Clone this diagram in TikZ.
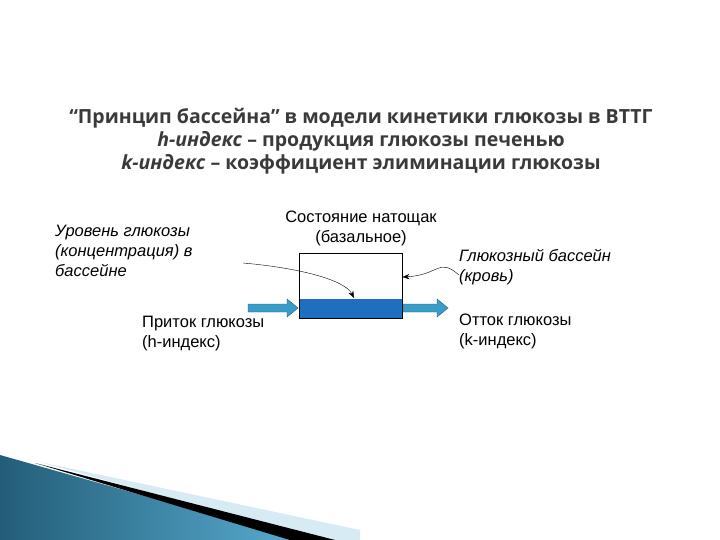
\documentclass[tikz,border=0pt]{standalone}
\usepackage{fontspec}
\setmainfont{Liberation Sans}
\newfontfamily\titlefont{Open Sans}
\usetikzlibrary{arrows.meta}
\definecolor{ttl}{HTML}{3A3A3A}
\definecolor{water}{HTML}{1F6FC0}
\definecolor{flow}{HTML}{3A9CC8}
\tikzset{lbl/.style={font=\fontsize{16.5}{20}\selectfont,align=left,anchor=north west,inner sep=0pt},
ttlline/.style={font=\titlefont\bfseries\fontsize{19.5}{22}\selectfont,text=ttl,inner sep=0pt},
flowarrow/.style={fill=flow,draw=flow!60!black,line width=0.4pt}}
\begin{document}
\begin{tikzpicture}[x=1pt,y=-1pt]
\useasboundingbox (0,0) rectangle (720,540);
% decoration
\fill[flow!20] (40,462) -- (360,530) -- (360,540) -- (320,540) -- cycle;
\shade[left color=flow!60!black,right color=flow!85!white] (0,455) -- (0,540) -- (300,540) -- cycle;
\fill[black] (35,463) -- (335,540) -- (290,540) -- cycle;
% title
\node[ttlline] (t1) at (361,118) {“Принцип бассейна” в модели кинетики глюкозы в ВТТГ};
\node[ttlline] (t2) at (361,141) {\textit{h-индекс} – продукция глюкозы печенью};
\node[ttlline] (t3) at (361,164) {\textit{k-индекс} – коэффициент элиминации глюкозы};
% pool
\node[minimum width=103pt,minimum height=65pt,inner sep=0pt,anchor=north west] (box) at (299,253) {};
\fill[water] (299.5,299) rectangle (401.5,317.5);
\draw (box.north west) rectangle (box.south east);
\node[inner sep=0pt] (ain) at (273,308) {};
\node[inner sep=0pt] (aout) at (427,308) {};
\draw[flowarrow] (248,304) -- (287,304) -- (287,299) -- (298,308) -- (287,317) -- (287,312) -- (248,312) -- cycle;
\draw[flowarrow] (403,304) -- (437,304) -- (437,299) -- (448,308) -- (437,317) -- (437,312) -- (403,312) -- cycle;
\node[font=\fontsize{16.5}{20}\selectfont,align=center,inner sep=0pt] (st) at (361,228) {Состояние натощак\\(базальное)};
\node[lbl,font=\itshape\fontsize{16.5}{20}\selectfont] (lev) at (55,225) {Уровень глюкозы\\(концентрация) в\\бассейне};
\node[lbl,font=\itshape\fontsize{16.5}{20}\selectfont] (pool) at (459,249) {Глюкозный бассейн\\(кровь)};
\node[lbl] (in) at (142,316) {Приток глюкозы\\(h-индекс)};
\node[lbl] (out) at (459,314) {Отток глюкозы\\(k-индекс)};
\coordinate (c1) at (243,263);
\coordinate (c2) at (354,298);
\draw[-{Stealth[length=7pt]}] (c1) .. controls (300,268) and (345,280) .. (c2);
\draw[-{Stealth[length=7pt]}] (pool.west) ++(0,8) .. controls (438,257) and (440,275) .. (box.east|-0,277);
\end{tikzpicture}
\end{document}
